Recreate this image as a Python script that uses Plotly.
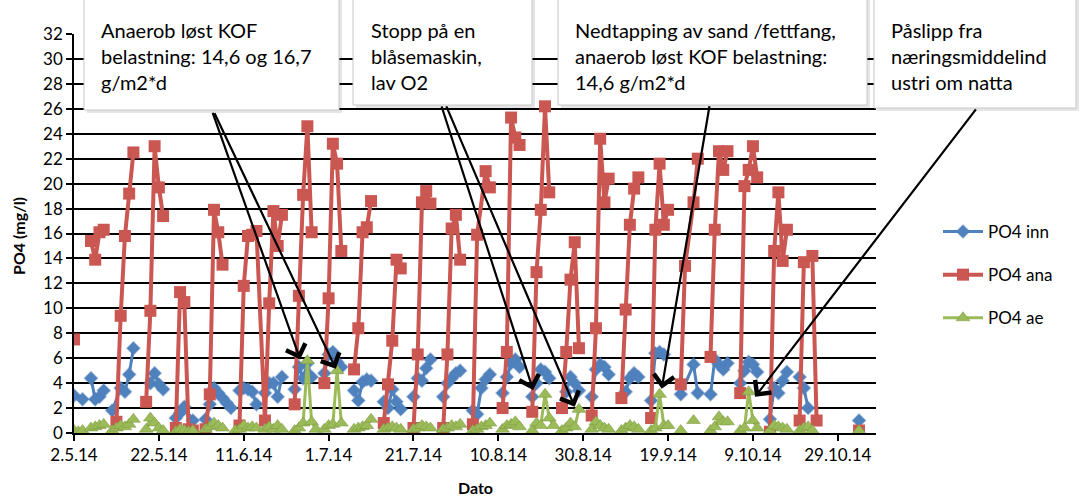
import pandas as pd
import plotly.graph_objects as go

# ---------------- data (days after 2.5.2014; None = gap in the line) ----------------
START = "2014-05-02"

ana_day = [0, None,
           4, 5, 6, 7, None,
           10, 11, 12, 13, 14, None,
           17, 18, 19, 20, 21, None,
           24, 25, 26, 27, 28, None,
           31, 32, 33, 34, 35, None,
           39, 40, 41, 42, 43, 45, 46, 47, 48, 49, None,
           52, 53, 54, 55, 56, None,
           59, 60, 61, 62, 63, None,
           66, 67, 68, 69, 70, None,
           73, 74, 75, 76, 77, None,
           80, 81, 82, 83, 84, None,
           87, 88, 89, 90, 91, None,
           94, 95, 97, 98, None,
           101, 102, 103, 104, 105, None,
           108, 109, 110, 111, 112, None,
           115, 116, 117, 118, 119, None,
           122, 123, 124, 125, 126, None,
           129, 130, 131, 132, 133, None,
           136, 137, 138, 139, 140, None,
           143, 144, 146, 147, None,
           150, 151, 152, 153, 154, None,
           157, 158, 159, 160, 161, None,
           164, 165, 166, 167, 168, None,
           171, 172, 174, 175, None,
           185]
ana_val = [7.5, None,
           15.4, 13.9, 16.1, 16.3, None,
           0.9, 9.4, 15.8, 19.2, 22.5, None,
           2.5, 9.8, 23.0, 19.7, 17.4, None,
           0.4, 11.3, 10.5, 0.3, 0.2, None,
           0.3, 3.1, 17.9, 16.1, 13.5, None,
           0.6, 11.8, 15.8, 15.9, 16.2, 1.0, 10.4, 17.8, 15.0, 17.5, None,
           2.3, 11.0, 19.1, 24.6, 16.1, None,
           4.0, 10.8, 23.2, 21.6, 14.6, None,
           5.1, 8.4, 16.1, 16.5, 18.6, None,
           0.8, 3.9, 7.4, 13.9, 13.2, None,
           0.4, 6.3, 18.5, 19.4, 18.4, None,
           0.4, 6.3, 16.4, 17.5, 13.9, None,
           0.7, 15.9, 21.0, 19.7, None,
           2.0, 6.5, 25.3, 23.7, 23.1, None,
           1.7, 12.9, 17.9, 26.2, 19.3, None,
           2.0, 6.5, 12.3, 15.3, 6.8, None,
           1.4, 8.4, 23.6, 18.5, 20.4, None,
           2.8, 9.9, 16.7, 19.6, 20.5, None,
           1.2, 16.3, 21.6, 16.7, 17.9, None,
           3.9, 13.4, 18.5, 22.0, None,
           6.1, 16.3, 22.6, 21.1, 22.6, None,
           3.2, 19.8, 21.1, 23.0, 20.5, None,
           0.1, 14.6, 19.3, 13.8, 16.3, None,
           1.0, 13.7, 14.2, 1.0, None,
           0.2]

inn_day = [0, 2, None,
           4, 5, 6, 7, None,
           9, 11, 12, 13, 14, None,
           18, 19, 20, 21, None,
           24, 25, 26, 28, None,
           31, 32, 33, 34, 35, 36, 37, None,
           39, 40, 41, 42, 43, None,
           45, 46, 47, 48, 49, None,
           52, 53, 54, 55, 56, None,
           59, 60, 61, 62, 63, None,
           66, 67, 68, 69, 70, None,
           73, 74, 75, 76, 77, None,
           80, 81, 82, 83, 84, None,
           87, 88, 89, 90, 91, None,
           94, 95, 96, 97, 98, None,
           101, 102, 103, 104, 105, None,
           108, 109, 110, 111, 112, None,
           116, 117, 118, 119, None,
           122, 123, 124, 125, 126, None,
           130, 131, 132, 133, None,
           136, 137, 138, 139, None,
           143, 146, 147, None,
           150, 151, 152, 153, 154, None,
           157, 158, 159, 160, 161, None,
           164, 165, 166, 167, 168, None,
           171, 172, 173, None,
           185]
inn_val = [3.0, 2.7, None,
           4.4, 2.7, 2.9, 3.4, None,
           1.8, 3.6, 3.3, 4.7, 6.8, None,
           4.0, 4.8, 3.9, 3.5, None,
           1.2, 1.6, 2.1, 1.0, None,
           1.1, 2.3, 3.6, 3.2, 2.8, 2.4, 2.0, None,
           3.4, 3.6, 3.5, 3.3, 2.3, None,
           3.2, 4.0, 4.0, 2.9, 4.5, None,
           3.5, 5.3, 4.4, 5.6, 4.5, None,
           4.8, 6.3, 6.5, 5.7, 5.3, None,
           3.4, 2.6, 4.1, 4.3, 4.2, None,
           2.5, 2.0, 3.5, 2.5, 1.9, None,
           2.9, 4.4, 4.2, 5.2, 5.9, None,
           2.9, 4.0, 4.4, 4.8, 5.0, None,
           1.8, 1.5, 3.6, 4.3, 4.7, None,
           3.2, 4.5, 5.6, 5.9, 5.3, None,
           2.9, 4.0, 5.1, 4.9, 4.4, None,
           3.3, 4.5, 4.0, 3.4, None,
           2.9, 5.1, 5.5, 5.3, 4.7, None,
           3.3, 4.4, 4.8, 4.5, None,
           2.6, 6.4, 6.5, 6.3, None,
           3.1, 5.5, 3.2, None,
           3.1, 5.9, 5.5, 5.1, 5.6, None,
           4.0, 5.0, 5.7, 5.5, 4.9, None,
           1.1, 3.6, 3.2, 4.2, 4.9, None,
           4.5, 3.6, 2.0, None,
           1.0]

ae_day = [0, 1, 2, None,
          4, 5, 6, 7, None,
          9, 10, 11, 12, 13, 14, None,
          17, 18, 19, 20, 21, None,
          24, 25, 26, 27, 28, None,
          31, 32, 33, 34, 35, None,
          38, 39, 40, 41, 42, 43, None,
          45, 46, 47, 48, 49, None,
          52, 53, 54, 55, 56, 57, None,
          59, 60, 61, 62, 63, None,
          66, 67, 68, 69, 70, None,
          73, 74, 75, 76, 77, None,
          80, 81, 82, 83, 84, None,
          87, 88, 89, 90, 91, None,
          94, 95, 96, 97, 98, None,
          101, 102, 103, 104, 105, None,
          108, 109, 110, 111, 112, 113, None,
          115, 116, 117, 118, 119, None,
          122, 123, 124, 125, 126, None,
          129, 130, 131, 132, 133, None,
          136, 137, 138, 139, 140, None,
          143, None, 146, None,
          150, 151, 152, 153, 154, None,
          157, 158, 159, 160, 161, None,
          164, 165, 166, 167, 168, None,
          171, 172, 173, 174, None,
          185]
ae_val = [0.2, 0.1, 0.2, None,
          0.4, 0.5, 0.6, 0.7, None,
          0.2, 0.4, 0.6, 0.5, 0.7, 1.1, None,
          0.3, 1.2, 0.8, 0.4, 0.2, None,
          0.1, 0.3, 0.2, 0.1, 0.2, None,
          0.3, 0.5, 0.8, 0.6, 0.4, None,
          0.2, 0.3, 0.6, 0.4, 0.5, 0.4, None,
          0.3, 0.5, 0.3, 0.6, 0.3, None,
          0.2, 0.4, 0.8, 5.8, 0.9, 0.3, None,
          0.3, 0.6, 0.7, 5.0, 0.8, None,
          0.3, 0.4, 0.5, 0.6, 1.1, None,
          0.3, 0.4, 0.5, 0.4, 0.3, None,
          0.3, 0.4, 0.6, 0.5, 0.4, None,
          0.3, 0.4, 0.6, 0.5, 0.7, None,
          0.2, 0.3, 0.5, 0.6, 0.8, None,
          0.3, 0.6, 0.7, 0.9, 0.5, None,
          0.2, 0.8, 0.6, 3.1, 1.2, 0.6, None,
          0.2, 0.4, 0.8, 0.5, 1.9, None,
          0.3, 0.9, 0.6, 0.4, 0.3, None,
          0.2, 0.4, 0.6, 0.5, 0.3, None,
          0.2, 0.4, 3.1, 0.6, 0.6, None,
          0.2, None, 1.0, None,
          0.2, 0.5, 1.3, 0.9, 0.9, None,
          0.2, 0.4, 3.3, 1.0, 0.4, None,
          0.2, 0.6, 0.5, 0.4, 0.3, None,
          0.2, 0.4, 0.5, 0.2, None,
          0.2]

series_names = ["PO4 inn", "PO4 ana", "PO4 ae"]
x_title = "Dato"
y_title = "PO4 (mg/l)"
x_ticks_start = "2014-05-02"
tick_step_days = 20

box_texts = [
    "Anaerob løst KOF<br>belastning: 14,6 og 16,7<br>g/m2*d",
    "Stopp på en<br>blåsemaskin,<br>lav O2",
    "Nedtapping av sand /fettfang,<br>anaerob løst KOF belastning:<br>14,6 g/m2*d",
    "Påslipp fra<br>næringsmiddelind<br>ustri om natta",
]

# ---------------- helpers ----------------
base = pd.Timestamp(START)


def to_dates(days):
    return [None if d is None else (base + pd.Timedelta(days=d)).strftime("%Y-%m-%d") for d in days]


W, H = 1083, 500
L, R, T, B = 74, 876, 34, 433  # plot area in pixels


def px(x):
    return (x - L) / (R - L)


def py(y):
    return (B - y) / (B - T)


FONT = "Lato, 'Liberation Sans', Arial, sans-serif"

fig = go.Figure()

fig.add_trace(go.Scatter(
    x=to_dates(inn_day), y=inn_val, name=series_names[0], mode="lines+markers",
    line=dict(color="#4F81BD", width=3),
    marker=dict(symbol="diamond", size=10, color="#4F81BD",
                line=dict(color="rgba(79,129,189,0.45)", width=1.5)),
    legendgroup="a", connectgaps=False))
fig.add_trace(go.Scatter(
    x=to_dates(ana_day), y=ana_val, name=series_names[1], mode="lines+markers",
    line=dict(color="#CB5752", width=4),
    marker=dict(symbol="square", size=12, color="#CB5752"),
    legendgroup="b", connectgaps=False))
fig.add_trace(go.Scatter(
    x=to_dates(ae_day), y=ae_val, name=series_names[2], mode="lines+markers",
    line=dict(color="#9BBB59", width=3),
    marker=dict(symbol="triangle-up", size=12, color="#9BBB59",
                line=dict(color="rgba(120,150,60,0.5)", width=1)),
    legendgroup="c", connectgaps=False))

end_date = (base + pd.Timedelta(days=189)).strftime("%Y-%m-%d")

fig.update_layout(
    width=W, height=H,
    margin=dict(l=L, r=W - R, t=T, b=H - B, autoexpand=False),
    paper_bgcolor="white", plot_bgcolor="white",
    font=dict(family=FONT, size=17, color="black"),
    showlegend=True,
    legend=dict(x=px(938), y=py(214), xanchor="left", yanchor="top",
                font=dict(size=17), tracegroupgap=18, itemwidth=40,
                bgcolor="rgba(0,0,0,0)"),
    xaxis=dict(type="date", range=[START, end_date], automargin=False,
               tick0=x_ticks_start, dtick=tick_step_days * 86400000,
               tickformat="%-d.%-m.%y", showgrid=False,
               showline=True, linecolor="black", linewidth=1.5,
               ticks="outside", ticklen=6, tickcolor="black", tickwidth=1.5,
               tickfont=dict(size=17), zeroline=False),
    yaxis=dict(range=[0, 32], dtick=2, tick0=0, automargin=False,
               showgrid=True, gridcolor="black", gridwidth=1.5,
               showline=True, linecolor="black", linewidth=1.5,
               ticks="outside", ticklen=6, tickcolor="black", tickwidth=1.5,
               tickfont=dict(size=17), zeroline=False),
)

# axis titles
fig.add_annotation(xref="paper", yref="paper", x=px(475), y=py(487),
                   text="<b>" + x_title + "</b>", showarrow=False,
                   xanchor="center", yanchor="middle", font=dict(size=16))
fig.add_annotation(xref="paper", yref="paper", x=px(18), y=py(236),
                   text="<b>" + y_title + "</b>", showarrow=False, textangle=-90,
                   xanchor="center", yanchor="middle", font=dict(size=16))

# text boxes (shapes) with soft shadow
boxes = [(84, 339, 110), (353, 532, 105), (558, 867, 105), (874, 1076, 108)]
text_x = [99, 369, 573, 889]
for (x0, x1, yb), tx, txt in zip(boxes, text_x, box_texts):
    fig.add_shape(type="rect", xref="paper", yref="paper",
                  x0=px(x0 + 3), x1=px(x1 + 3), y0=py(yb + 3), y1=py(-20),
                  fillcolor="rgba(0,0,0,0.10)", line=dict(width=0), layer="above")
    fig.add_shape(type="rect", xref="paper", yref="paper",
                  x0=px(x0), x1=px(x1), y0=py(yb), y1=py(-20),
                  fillcolor="white", line=dict(color="#C8C8C8", width=1), layer="above")
    fig.add_annotation(xref="paper", yref="paper", x=px(tx), y=py(16),
                       xanchor="left", yanchor="top", align="left",
                       text=txt, showarrow=False,
                       font=dict(family=FONT, size=20, color="black"))

# arrows: head at data point (day, value), tail offset in pixels
arrows = [
    (53.3, 5.9, -88, -248),
    (61.7, 5.15, -122, -257),
    (108.2, 3.45, -92, -285),
    (118.0, 2.1, -129, -302),
    (138.5, 3.55, 48, -284),
    (160.5, 2.9, 222, -289),
]
for d, v, axp, ayp in arrows:
    fig.add_annotation(x=(base + pd.Timedelta(days=d)), y=v, xref="x", yref="y",
                       ax=axp, ay=ayp, axref="pixel", ayref="pixel",
                       text="", showarrow=True, arrowhead=4, arrowsize=1.8,
                       arrowwidth=2.2, arrowcolor="black", standoff=0)

fig.write_html("out.html")
